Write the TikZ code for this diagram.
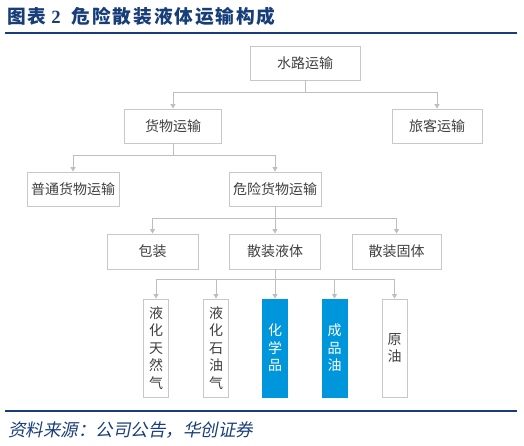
\documentclass[tikz,border=0pt]{standalone}
\usepackage{fontspec}
\newfontfamily\cjk{Noto Sans CJK SC}
\newfontfamily\cjktitle[LetterSpace=10]{Noto Sans CJK SC}
\newfontfamily\cjkslant[FakeSlant=0.2]{Noto Sans CJK SC}
\newfontfamily\serifb{Liberation Serif}
\usetikzlibrary{arrows.meta}
\definecolor{navy}{RGB}{24,62,122}
\definecolor{boxline}{RGB}{200,200,200}
\definecolor{connc}{RGB}{190,190,190}
\definecolor{txt}{RGB}{64,64,64}
\definecolor{bluefill}{RGB}{0,150,219}
\begin{document}
\begin{tikzpicture}[x=1pt,y=-1pt,
 box/.style={draw=boxline,line width=0.9pt,fill=white,minimum height=34pt,inner sep=0pt,font=\cjk\fontsize{14}{16}\selectfont,text=txt},
 vbox/.style={draw=boxline,line width=0.9pt,fill=white,minimum width=25pt,minimum height=98pt,inner sep=0pt,align=center,font=\cjk\fontsize{14}{17.5}\selectfont,text=txt},
 bluebox/.style={vbox,fill=bluefill,draw=bluefill,text=white},
 link/.style={draw=connc,line width=0.9pt,-{Triangle[width=5pt,length=4.5pt]}},
 plain/.style={draw=connc,line width=0.9pt},
]
\useasboundingbox (0,0) rectangle (524,445);
% title
\node[anchor=west,inner sep=0pt,font=\cjktitle\bfseries\fontsize{18.7}{20}\selectfont,text=navy] (title) at (7,16) {图表\hspace{5pt}{\serifb\bfseries 2}\hspace{11pt}危险散装液体运输构成};
\draw[navy,line width=1.5pt] (5,33) -- (517,33);
\draw[navy,line width=1.5pt] (5,411) -- (517,411);
\node[anchor=west,inner sep=0pt,font=\cjkslant\fontsize{17.5}{19}\selectfont,text=navy] (src) at (8,430) {资料来源：公司公告，华创证券};

% nodes
\node[box,minimum width=110pt] (water) at (305,63) {水路运输};
\node[box,minimum width=97pt] (cargo) at (173,126) {货物运输};
\node[box,minimum width=90pt] (pass) at (437,126) {旅客运输};
\node[box,minimum width=92pt] (ord) at (73,189) {普通货物运输};
\node[box,minimum width=92pt] (dang) at (275,189) {危险货物运输};
\node[box,minimum width=91pt,minimum height=35pt] (pack) at (152.5,251.5) {包装};
\node[box,minimum width=91pt,minimum height=35pt] (liq) at (275,251.5) {散装液体};
\node[box,minimum width=89pt,minimum height=35pt] (sol) at (396.5,251.5) {散装固体};
\node[vbox] (lng) at (156,348) {液\\化\\天\\然\\气};
\node[vbox] (lpg) at (216,348) {液\\化\\石\\油\\气};
\node[bluebox] (chem) at (275,348) {化\\学\\品};
\node[bluebox] (oil) at (334.5,348) {成\\品\\油};
\node[vbox] (crude) at (394.5,348) {原\\油};

% bus coordinates
\coordinate (b1) at (305,92);
\coordinate (b2) at (173,155);
\coordinate (b3) at (275,218);
\coordinate (b4) at (275,279);

% connectors
\draw[plain] (water.south) -- (b1);
\draw[link] (b1) -| (cargo.north);
\draw[link] (b1) -| (pass.north);
\draw[plain] (cargo.south) -- (b2);
\draw[link] (b2) -| (ord.north);
\draw[link] (b2) -| (dang.north);
\draw[plain] (dang.south) -- (b3);
\draw[link] (b3) -| (pack.north);
\draw[link] (b3) -- (liq.north);
\draw[link] (b3) -| (sol.north);
\draw[plain] (liq.south) -- (b4);
\draw[link] (b4) -| (lng.north);
\draw[link] (b4) -| (lpg.north);
\draw[link] (b4) -- (chem.north);
\draw[link] (b4) -| (oil.north);
\draw[link] (b4) -| (crude.north);
\end{tikzpicture}
\end{document}
